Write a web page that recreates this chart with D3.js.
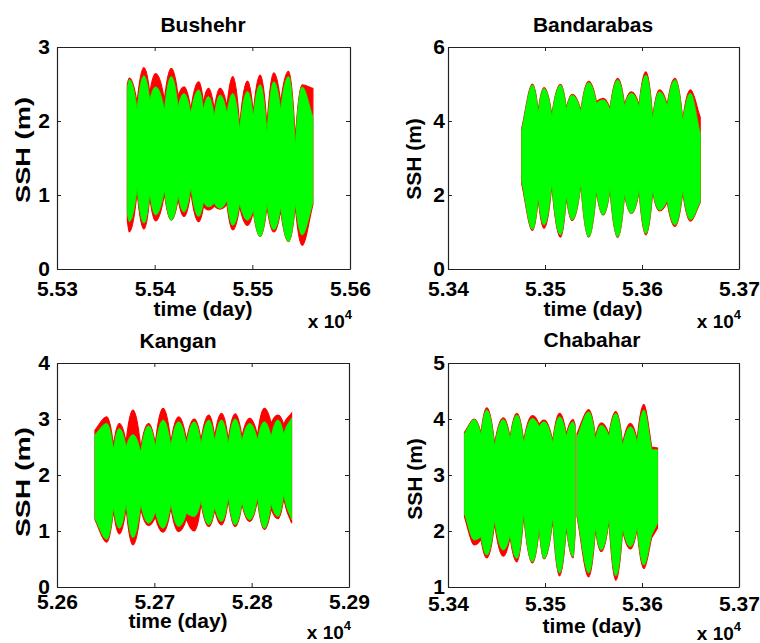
<!DOCTYPE html>
<html>
<head>
<meta charset="utf-8">
<script src="https://cdn.jsdelivr.net/npm/d3@7"></script>
<style>
  body { margin: 0; background: #fff; }
  text { font-family: "Liberation Sans", Arial, sans-serif; font-weight: bold; fill: #000; }
</style>
</head>
<body>
<svg id="chart" width="760" height="643"></svg>
<script>
// --------------------------------------
// DATA  (envelopes: day, SSH in m)
// obs = red (observed), mod = green (model)
// --------------------------------------
var busTime  = [55372, 55374, 55382, 55389, 55395, 55401, 55410, 55417, 55424, 55430, 55437, 55445, 55450, 55455, 55461, 55467, 55474, 55480, 55487, 55495, 55501, 55508, 55515, 55522, 55529, 55537, 55544, 55551, 55562];
var busObsHi = [2.50, 2.58, 2.24, 2.72, 2.37, 2.64, 2.28, 2.71, 2.33, 2.46, 2.15, 2.53, 2.24, 2.44, 2.15, 2.44, 2.19, 2.60, 1.92, 2.54, 2.10, 2.62, 1.92, 2.65, 2.24, 2.67, 1.74, 2.49, 2.44];
var busObsLo = [0.65, 0.50, 1.05, 0.54, 0.98, 0.65, 1.02, 0.66, 0.95, 0.71, 1.05, 0.64, 0.85, 0.80, 0.85, 0.81, 0.88, 0.53, 0.85, 0.59, 0.78, 0.44, 0.85, 0.50, 0.80, 0.37, 0.86, 0.32, 0.87];
var busModHi = [2.45, 2.56, 2.15, 2.61, 2.28, 2.46, 2.15, 2.60, 2.19, 2.37, 2.10, 2.42, 2.15, 2.33, 2.06, 2.35, 2.10, 2.37, 1.88, 2.40, 2.06, 2.49, 1.83, 2.53, 2.15, 2.60, 1.65, 2.46, 2.06];
var busModLo = [0.75, 0.64, 1.09, 0.62, 1.02, 0.73, 1.07, 0.66, 1.00, 0.77, 1.11, 0.71, 0.91, 0.84, 0.89, 0.82, 0.93, 0.59, 0.89, 0.66, 0.80, 0.44, 0.89, 0.53, 0.84, 0.37, 0.89, 0.46, 0.89];
var busXTicks = [55300, 55400, 55500, 55600];
var busYTicks = [0, 1, 2, 3];

var banTime  = [53476, 53487, 53493, 53499, 53507, 53516, 53522, 53528, 53537, 53545, 53553, 53560, 53567, 53575, 53582, 53589, 53597, 53604, 53611, 53618, 53626, 53634, 53642, 53650, 53660];
var banObsHi = [3.80, 5.00, 4.25, 4.90, 4.15, 4.99, 4.33, 4.72, 4.28, 5.07, 4.52, 4.61, 4.33, 5.15, 4.43, 4.79, 4.43, 5.33, 4.07, 4.84, 4.43, 5.15, 4.02, 4.84, 4.10];
var banObsLo = [2.30, 1.04, 1.92, 1.10, 2.28, 0.86, 1.97, 1.31, 2.30, 0.86, 2.12, 1.46, 2.15, 0.85, 2.02, 1.50, 2.10, 0.92, 2.10, 1.57, 1.82, 1.15, 2.08, 1.29, 1.80];
var banModHi = [3.76, 4.97, 4.21, 4.88, 4.12, 4.97, 4.30, 4.70, 4.25, 5.04, 4.48, 4.57, 4.30, 5.11, 4.39, 4.75, 4.39, 5.24, 4.03, 4.79, 4.39, 5.11, 3.98, 4.75, 3.67];
var banModLo = [2.36, 1.07, 1.95, 1.19, 2.32, 0.92, 2.00, 1.33, 2.32, 0.87, 2.14, 1.46, 2.18, 0.87, 2.05, 1.50, 2.14, 0.96, 2.14, 1.59, 1.87, 1.19, 2.14, 1.33, 1.82];
var banXTicks = [53400, 53500, 53600, 53700];
var banYTicks = [0, 2, 4, 6];

var kanTime  = [52639, 52651, 52658, 52664, 52671, 52678, 52686, 52694, 52701, 52709, 52717, 52725, 52733, 52741, 52748, 52756, 52762, 52769, 52776, 52783, 52790, 52798, 52806, 52813, 52820, 52827, 52833, 52841];
var kanObsHi = [2.80, 3.04, 2.52, 2.92, 2.58, 3.16, 2.48, 2.92, 2.55, 3.19, 2.58, 3.04, 2.62, 3.00, 2.62, 3.07, 2.68, 3.10, 2.62, 3.09, 2.68, 3.01, 2.70, 3.19, 2.92, 3.07, 2.90, 3.10];
var kanObsLo = [1.20, 0.80, 1.38, 0.95, 1.42, 0.75, 1.40, 1.10, 1.25, 0.98, 1.42, 0.99, 1.22, 1.00, 1.50, 1.08, 1.38, 1.11, 1.56, 1.08, 1.48, 1.17, 1.56, 1.03, 1.40, 1.22, 1.60, 1.14];
var kanModHi = [2.72, 2.92, 2.45, 2.83, 2.50, 2.72, 2.40, 2.88, 2.50, 2.98, 2.52, 2.95, 2.55, 2.95, 2.55, 2.98, 2.60, 2.98, 2.55, 3.00, 2.60, 2.92, 2.62, 2.95, 2.68, 2.98, 2.72, 3.02];
var kanModLo = [1.22, 0.85, 1.43, 1.05, 1.50, 0.88, 1.49, 1.14, 1.35, 1.05, 1.49, 1.08, 1.32, 1.26, 1.55, 1.11, 1.43, 1.17, 1.61, 1.11, 1.52, 1.20, 1.61, 1.05, 1.49, 1.26, 1.67, 1.20];
var kanXTicks = [52600, 52700, 52800, 52900];
var kanYTicks = [0, 1, 2, 3, 4];

// null = gap in the record
var chaTime  = [53417, 53427, 53434, 53440, 53448, 53457, 53464, 53471, 53478, 53487, 53494, 53499, 53508, 53515, 53522, 53529, 53531, 53532, 53533, 53545, 53552, 53558, 53566, 53573, 53580, 53588, 53595, 53602, 53610, 53616];
var chaObsHi = [3.76, 4.00, 3.74, 4.20, 3.55, 4.02, 3.66, 4.10, 3.60, 4.06, 3.90, 3.98, 3.60, 4.10, 3.72, 3.99, 3.90, null, 3.74, 4.17, 3.68, 3.93, 3.72, 4.13, 3.55, 3.92, 3.62, 4.26, 3.50, 3.48];
var chaObsLo = [2.25, 1.75, 1.86, 1.52, 2.15, 1.55, 1.90, 1.45, 2.30, 1.43, 2.05, 1.50, 2.22, 1.20, 2.08, 1.52, 1.94, null, 2.26, 1.18, 2.04, 1.63, 2.20, 1.12, 2.02, 1.68, 2.05, 1.33, 1.88, 2.05];
var chaModHi = [3.74, 3.99, 3.71, 4.16, 3.51, 3.99, 3.63, 4.07, 3.57, 4.01, 3.86, 3.95, 3.57, 4.04, 3.68, 3.95, 3.86, null, 3.68, 4.13, 3.63, 3.89, 3.68, 4.10, 3.51, 3.86, 3.57, 4.16, 3.45, 3.45];
var chaModLo = [2.30, 1.84, 1.90, 1.57, 2.20, 1.66, 1.93, 1.51, 2.34, 1.45, 2.08, 1.51, 2.26, 1.25, 2.11, 1.54, 1.96, null, 2.29, 1.25, 2.08, 1.66, 2.23, 1.20, 2.05, 1.72, 2.08, 1.39, 1.93, 2.14];
var chaXTicks = [53400, 53500, 53600, 53700];
var chaYTicks = [1, 2, 3, 4, 5];

// --------------------------------------
// LAYOUT
// --------------------------------------
var PANELS = [
  { title: 'Bushehr', time: busTime, obsHi: busObsHi, obsLo: busObsLo, modHi: busModHi, modLo: busModLo,
    xTicks: busXTicks, yTicks: busYTicks,
    left: 57, top: 47, width: 293, height: 222,
    centerX: 203, titleY: 32, tickPad: 12, yPad: 7, xlabY: 316, expY: 328, ylabX: 30, ylabY: 150, ylabLen: 106 },
  { title: 'Bandarabas', time: banTime, obsHi: banObsHi, obsLo: banObsLo, modHi: banModHi, modLo: banModLo,
    xTicks: banXTicks, yTicks: banYTicks,
    left: 448, top: 47, width: 291, height: 222,
    centerX: 593, titleY: 32, tickPad: 12, yPad: 3, xlabY: 316, expY: 328, ylabX: 421, ylabY: 159, ylabLen: null },
  { title: 'Kangan', time: kanTime, obsHi: kanObsHi, obsLo: kanObsLo, modHi: kanModHi, modLo: kanModLo,
    xTicks: kanXTicks, yTicks: kanYTicks,
    left: 57, top: 363, width: 292, height: 224,
    centerX: 178, titleY: 348, tickPad: 7, yPad: 7, xlabY: 628, expY: 639, ylabX: 30, ylabY: 482, ylabLen: 110 },
  { title: 'Chabahar', time: chaTime, obsHi: chaObsHi, obsLo: chaObsLo, modHi: chaModHi, modLo: chaModLo,
    xTicks: chaXTicks, yTicks: chaYTicks,
    left: 448, top: 363, width: 291, height: 224,
    centerX: 592, titleY: 347, tickPad: 9, yPad: 3, xlabY: 633, expY: 640, ylabX: 422, ylabY: 479, ylabLen: null }
];

var FONT = 21;
var svg = d3.select('#chart');

// --------------------------------------
// UTIL
// --------------------------------------
function envelope(time, hi, lo) {
  return time.map(function (t, i) { return { t: t, hi: hi[i], lo: lo[i] }; });
}

// one edge of a spring-neap band: rounded at springs, sharp notch at neaps.
// sign = 1 for the upper edge (notches point down on screen), -1 for the lower edge
function lobeEdge(p, pts, sign) {
  var K = 2;
  function kind(i) {
    if (i === 0 || i === pts.length - 1) { return 'end'; }
    var a = pts[i][1] - pts[i - 1][1], b = pts[i][1] - pts[i + 1][1];
    if (a * sign > 0 && b * sign > 0) { return 'notch'; }
    if (a * sign < 0 && b * sign < 0) { return 'peak'; }
    return 'mid';
  }
  function weight(k) { return k === 'peak' ? 0 : (k === 'notch' ? K : 1); }
  for (var i = 0; i < pts.length - 1; i++) {
    var x0 = pts[i][0], y0 = pts[i][1], x1 = pts[i + 1][0], y1 = pts[i + 1][1];
    var dx = x1 - x0, dy = y1 - y0;
    var w0 = weight(kind(i)), w1 = weight(kind(i + 1));
    p.bezierCurveTo(x0 + dx / 3, y0 + w0 * dy / 3, x1 - dx / 3, y1 - w1 * dy / 3, x1, y1);
  }
}

function bandPath(data, x, y) {
  var segs = [], cur = [];
  data.forEach(function (d) {
    if (d.hi == null) { if (cur.length) { segs.push(cur); } cur = []; }
    else { cur.push(d); }
  });
  if (cur.length) { segs.push(cur); }

  var p = d3.path();
  segs.forEach(function (seg) {
    var top = seg.map(function (d) { return [x(d.t), y(d.hi)]; });
    var bot = seg.map(function (d) { return [x(d.t), y(d.lo)]; }).reverse();
    p.moveTo(top[0][0], top[0][1]);
    lobeEdge(p, top, 1);
    p.lineTo(bot[0][0], bot[0][1]);
    lobeEdge(p, bot, -1);
    p.closePath();
  });
  return p.toString();
}

// --------------------------------------
// PANELS
// --------------------------------------
function drawPanel(p, idx) {
  var x = d3.scaleLinear().domain([p.xTicks[0], p.xTicks[p.xTicks.length - 1]]).range([0, p.width]);
  var y = d3.scaleLinear().domain([p.yTicks[0], p.yTicks[p.yTicks.length - 1]]).range([p.height, 0]);

  var g = svg.append('g').attr('transform', 'translate(' + p.left + ',' + p.top + ')');

  g.append('clipPath').attr('id', 'clip' + idx)
    .append('rect').attr('width', p.width).attr('height', p.height);

  var plot = g.append('g').attr('clip-path', 'url(#clip' + idx + ')');
  // observed (red) underneath, model (green) on top
  plot.append('path')
    .attr('d', bandPath(envelope(p.time, p.obsHi, p.obsLo), x, y))
    .attr('fill', '#ff0000').attr('stroke', '#ff0000').attr('stroke-width', 1.2);
  plot.append('path')
    .attr('d', bandPath(envelope(p.time, p.modHi, p.modLo), x, y))
    .attr('fill', '#00ff00').attr('stroke', '#00ff00').attr('stroke-width', 0.8);

  var fmt = function (d) { return (d / 1e4).toFixed(2); };

  // axes: labelled bottom / left, mirrored ticks top / right
  var axB = g.append('g').attr('transform', 'translate(0,' + p.height + ')')
    .call(d3.axisBottom(x).tickValues(p.xTicks).tickFormat(fmt).tickSizeInner(-4).tickSizeOuter(0).tickPadding(p.tickPad));
  var axT = g.append('g')
    .call(d3.axisTop(x).tickValues(p.xTicks).tickFormat('').tickSizeInner(-4).tickSizeOuter(0));
  var axL = g.append('g')
    .call(d3.axisLeft(y).tickValues(p.yTicks).tickFormat(d3.format('d')).tickSizeInner(-4).tickSizeOuter(0).tickPadding(p.yPad));
  var axR = g.append('g').attr('transform', 'translate(' + p.width + ',0)')
    .call(d3.axisRight(y).tickValues(p.yTicks).tickFormat('').tickSizeInner(-4).tickSizeOuter(0));

  [axB, axT, axL, axR].forEach(function (a) {
    a.select('.domain').attr('stroke', '#222').attr('stroke-width', 1.2);
    a.selectAll('.tick line').attr('stroke', '#222');
    a.selectAll('text').attr('font-size', FONT).attr('font-family', '"Liberation Sans", Arial, sans-serif')
      .attr('font-weight', 'bold').attr('fill', '#000');
  });

  // title
  svg.append('text').attr('x', p.centerX).attr('y', p.titleY)
    .attr('text-anchor', 'middle').attr('font-size', FONT).text(p.title);

  // x label
  svg.append('text').attr('x', p.centerX).attr('y', p.xlabY)
    .attr('text-anchor', 'middle').attr('font-size', FONT).text('time (day)');

  // exponent "x 10^4"
  var ex = svg.append('text').attr('x', p.left + p.width + 2).attr('y', p.expY)
    .attr('text-anchor', 'end').attr('font-size', 19);
  ex.append('tspan').text('x 10');
  ex.append('tspan').attr('font-size', 13).attr('dy', -9).text('4');

  // y label
  var yl = svg.append('text')
    .attr('transform', 'translate(' + p.ylabX + ',' + p.ylabY + ') rotate(-90)')
    .attr('text-anchor', 'middle').attr('font-size', FONT).text('SSH (m)');
  if (p.ylabLen) {
    yl.attr('textLength', p.ylabLen).attr('lengthAdjust', 'spacingAndGlyphs');
  }
}

PANELS.forEach(drawPanel);
</script>
</body>
</html>
